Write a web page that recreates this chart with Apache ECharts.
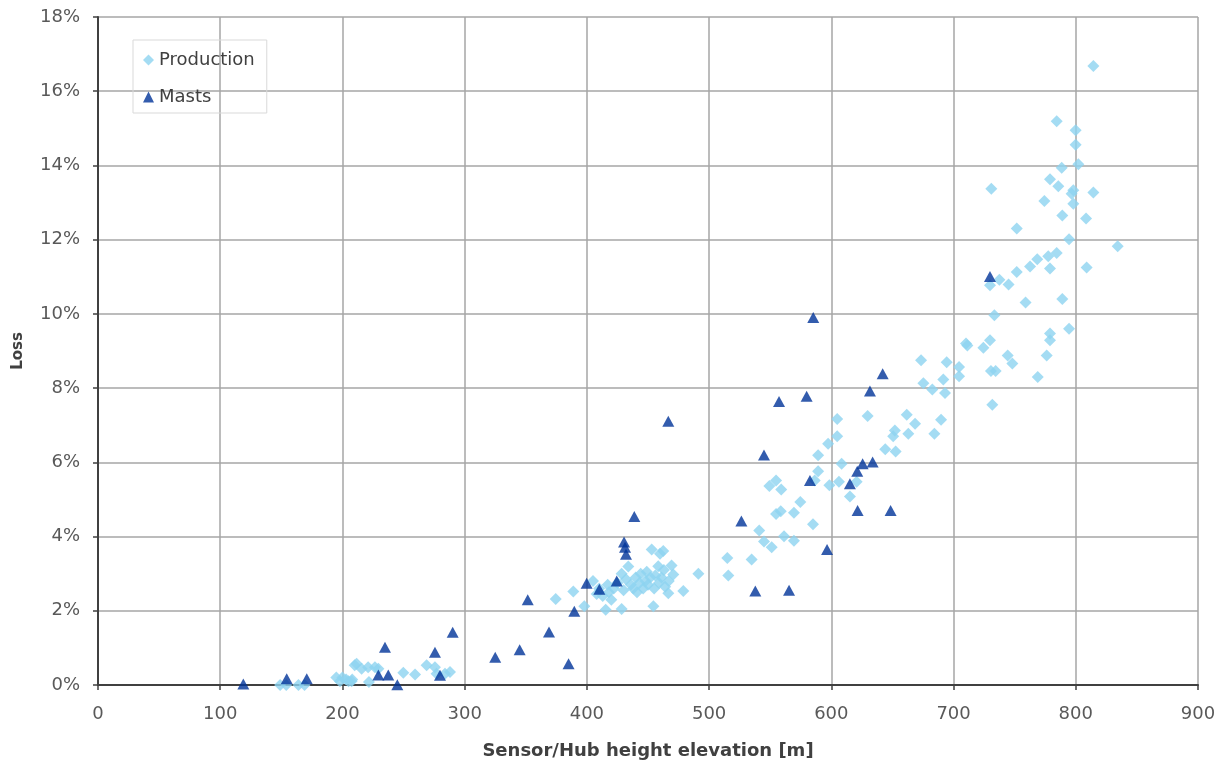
<!DOCTYPE html>
<html>
<head>
<meta charset="utf-8">
<script src="https://cdn.jsdelivr.net/npm/echarts@6/dist/echarts.min.js"></script>
<style>html,body{margin:0;padding:0;background:#fff}#c{width:1223px;height:767px}</style>
</head>
<body>
<div id="c"></div>
<script>
// Tick labels
const xTicks = [0,100,200,300,400,500,600,700,800,900];
const yTicks = [0,2,4,6,8,10,12,14,16,18]; // percent

// Production (diamonds): elevation [m], loss [%]
const prodX = [149,154,164,169,195,198,200,203,205,208,207.5,210,211.6,215.7,221,226.6,229.4,221.7,249.8,259.4,268.9,275.7,277,283.9,288,
  374.5,388.9,397.9,405,408,410,413,415.4,417,418,420,422,425,428.4,428.4,430,432,433.9,436,438,440,441,443,444,446,448,449,450,452,453,454.4,455,456,458.4,459,459.8,461,462.5,463,464,466.6,467,469.3,470.7,478.9,491.2,
  514.9,515.7,534.8,541,544.9,551.2,549.3,554.8,559,554.8,558.6,561.3,569.4,569.4,574.6,585,586.4,589.2,589.2,597.4,604.8,604.8,608.4,598.4,606.2,615.2,620.7,629.7,644.1,652.6,650.6,652,661.7,663,668.5,673.4,675.3,682.6,684.3,689.8,691.6,693,694.4,
  730.9,788.5,802.1,778.9,785.7,798,796.6,814.4,774.3,798,789,808.4,751.7,794.5,834.3,784.4,777.5,768.5,778.9,762.6,751.7,808.9,737.5,729.8,745,758.9,789,733.4,794.5,778.9,778.9,729.8,724.4,710.2,711.3,776.2,744.3,748.1,730.6,734.4,768.9,704.5,704.5,731.7,
  814.4,784.4,799.9,799.9];
const prodY = [0,0,0,0,0.2,0.1,0.2,0.15,0.1,0.15,0.1,0.53,0.57,0.44,0.48,0.48,0.44,0.08,0.33,0.28,0.53,0.48,0.3,0.3,0.35,
  2.32,2.52,2.12,2.8,2.45,2.6,2.4,2.03,2.7,2.5,2.3,2.6,2.75,2.05,3.0,2.55,2.85,3.19,2.7,2.6,2.9,2.5,2.75,3.0,2.6,2.8,3.05,2.7,2.9,3.65,2.12,2.6,2.95,3.2,2.75,3.54,2.9,3.61,3.1,2.65,2.47,2.8,3.22,2.98,2.53,3.0,
  3.42,2.95,3.38,4.16,3.87,3.71,5.36,5.51,5.27,4.61,4.68,4.01,3.89,4.64,4.93,4.33,5.51,5.76,6.19,6.5,6.7,7.17,5.96,5.38,5.48,5.08,5.48,7.25,6.35,6.29,6.7,6.86,7.28,6.77,7.04,8.75,8.13,7.96,6.77,7.15,8.23,7.87,8.7,
  13.37,13.94,14.03,13.63,13.44,13.33,13.24,13.27,13.04,12.97,12.65,12.57,12.3,12.01,11.82,11.64,11.55,11.47,11.22,11.28,11.13,11.25,10.92,10.77,10.79,10.31,10.4,9.96,9.6,9.47,9.29,9.29,9.09,9.2,9.15,8.88,8.88,8.66,8.46,8.46,8.3,8.57,8.32,7.55,
  16.68,15.19,14.95,14.56];

// Masts (triangles): elevation [m], loss [%]
const mastX = [118.9,154.4,170.8,229.4,234.8,237.5,244.9,275.7,279.8,290.2,325,345,351.6,369,385,389.7,399.8,410.2,424.4,430.4,431.2,432,438.8,466.6,
  526.4,537.8,544.9,557.2,565.4,579.8,582.5,585.2,596.5,615.2,621.2,621.5,625.6,631.6,633.8,642,648.5,729.8];
const mastY = [0.03,0.17,0.17,0.27,1.02,0.27,0.01,0.88,0.26,1.42,0.75,0.95,2.3,1.43,0.57,1.99,2.74,2.58,2.8,3.85,3.71,3.52,4.54,7.11,
  4.42,2.53,6.2,7.64,2.55,7.78,5.51,9.9,3.65,5.42,5.76,4.7,5.96,7.92,6.01,8.39,4.7,11.01];

const pairs = (xs, ys) => xs.map((x, i) => [x, ys[i]]);
const FONT = 'DejaVu Sans';

const chart = echarts.init(document.getElementById('c'));
chart.setOption({
  animation: false,
  backgroundColor: '#ffffff',
  textStyle: { fontFamily: FONT },
  grid: { left: 98, right: 25, top: 17, bottom: 82, containLabel: false },
  legend: {
    orient: 'vertical',
    left: 133, top: 40,
    padding: [11, 12, 7, 10],
    itemGap: 19,
    itemWidth: 11, itemHeight: 11,
    borderColor: '#d9d9d9', borderWidth: 1,
    textStyle: { fontFamily: FONT, fontSize: 18, color: '#404040' },
    data: [{ name: 'Production', icon: 'diamond' }, { name: 'Masts', icon: 'triangle' }]
  },
  xAxis: {
    type: 'value', min: xTicks[0], max: xTicks[xTicks.length - 1], interval: xTicks[1] - xTicks[0],
    name: 'Sensor/Hub height elevation [m]', nameLocation: 'middle', nameGap: 57,
    nameTextStyle: { fontFamily: FONT, fontWeight: 'bold', fontSize: 18, color: '#404040' },
    axisLine: { show: true, lineStyle: { color: '#404040', width: 2 } },
    axisTick: { show: true, length: 5, lineStyle: { color: '#404040', width: 1.5 } },
    axisLabel: { margin: 20, fontSize: 18, color: '#595959', fontFamily: FONT },
    splitLine: { show: true, lineStyle: { color: '#a6a6a6', width: 1.5 } }
  },
  yAxis: {
    type: 'value', min: yTicks[0], max: yTicks[yTicks.length - 1], interval: yTicks[1] - yTicks[0],
    name: 'Loss', nameLocation: 'middle', nameGap: 72, nameRotate: 90,
    nameTextStyle: { fontFamily: FONT, fontWeight: 'bold', fontSize: 15, color: '#404040' },
    axisLine: { show: true, lineStyle: { color: '#404040', width: 2 } },
    axisTick: { show: true, length: 5, lineStyle: { color: '#404040', width: 1.5 } },
    axisLabel: { margin: 18, fontSize: 18, color: '#595959', fontFamily: FONT, formatter: v => v + '%' },
    splitLine: { show: true, lineStyle: { color: '#a6a6a6', width: 1.5 } }
  },
  series: [
    { name: 'Production', type: 'scatter', symbol: 'diamond', symbolSize: [12, 12],
      itemStyle: { color: '#8dd3f0' }, data: pairs(prodX, prodY), z: 2 },
    { name: 'Masts', type: 'scatter', symbol: 'triangle', symbolSize: [12, 11],
      itemStyle: { color: '#003399' }, data: pairs(mastX, mastY), z: 3 }
  ]
});
</script>
</body>
</html>
